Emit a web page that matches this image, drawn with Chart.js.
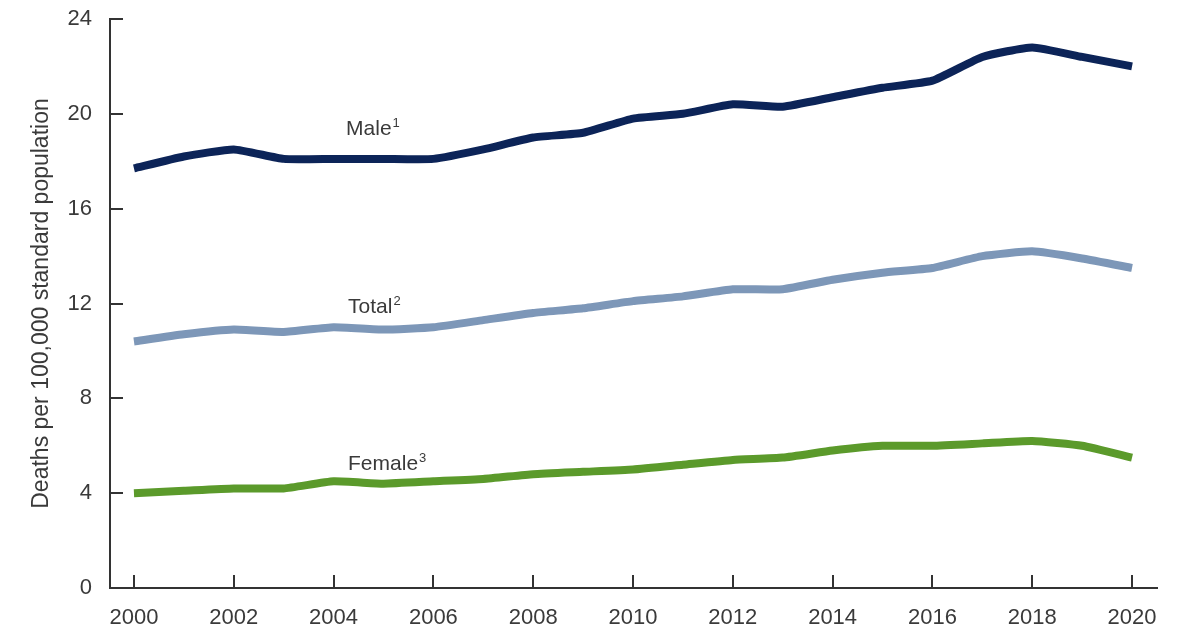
<!DOCTYPE html>
<html>
<head>
<meta charset="utf-8">
<script src="https://cdn.jsdelivr.net/npm/chart.js@4.4.1/dist/chart.umd.min.js"></script>
<style>
  html, body { margin: 0; padding: 0; background: #fff; }
  #wrap { width: 1200px; height: 630px; }
</style>
</head>
<body>
<div id="wrap"><canvas id="chart" width="1200" height="630"></canvas></div>
<script>
const years = [2000, 2001, 2002, 2003, 2004, 2005, 2006, 2007, 2008, 2009, 2010,
  2011, 2012, 2013, 2014, 2015, 2016, 2017, 2018, 2019, 2020];
const male = [17.7, 18.2, 18.5, 18.1, 18.1, 18.1, 18.1, 18.5, 19.0, 19.2, 19.8,
  20.0, 20.4, 20.3, 20.7, 21.1, 21.4, 22.4, 22.8, 22.4, 22.0];
const total = [10.4, 10.7, 10.9, 10.8, 11.0, 10.9, 11.0, 11.3, 11.6, 11.8, 12.1,
  12.3, 12.6, 12.6, 13.0, 13.3, 13.5, 14.0, 14.2, 13.9, 13.5];
const female = [4.0, 4.1, 4.2, 4.2, 4.5, 4.4, 4.5, 4.6, 4.8, 4.9, 5.0,
  5.2, 5.4, 5.5, 5.8, 6.0, 6.0, 6.1, 6.2, 6.0, 5.5];
const seriesNames = ["Male", "Total", "Female"];
const footnotes = ["1", "2", "3"];
const yTitle = "Deaths per 100,000 standard population";

const textColor = "#3a3a3a";
const axisColor = "#333333";
const fontFamily = "'Liberation Sans', Arial, sans-serif";

function points(values) {
  return years.map((yr, i) => ({ x: yr, y: values[i] }));
}

// in-plot series labels with superscript footnote markers
const seriesLabelPlugin = {
  id: "seriesLabels",
  afterDatasetsDraw(chart) {
    const { ctx, scales } = chart;
    // label anchors (left edge, baseline) in data units
    const anchors = [[2004.25, 19.1], [2004.29, 11.6], [2004.29, 4.98]];
    ctx.save();
    ctx.fillStyle = textColor;
    ctx.textBaseline = "alphabetic";
    ctx.textAlign = "left";
    anchors.forEach((a, i) => {
      const px = scales.x.getPixelForValue(a[0]);
      const py = scales.y.getPixelForValue(a[1]);
      ctx.font = "21px " + fontFamily;
      ctx.fillText(seriesNames[i], px, py);
      const w = ctx.measureText(seriesNames[i]).width;
      ctx.font = "13px " + fontFamily;
      ctx.fillText(footnotes[i], px + w + 1, py - 8);
    });
    ctx.restore();
  }
};

new Chart(document.getElementById("chart"), {
  type: "line",
  data: {
    datasets: [
      { label: seriesNames[0], data: points(male), borderColor: "#0c2458", borderWidth: 8 },
      { label: seriesNames[1], data: points(total), borderColor: "#7d97b8", borderWidth: 8 },
      { label: seriesNames[2], data: points(female), borderColor: "#5b9a2b", borderWidth: 8 }
    ]
  },
  options: {
    responsive: false,
    animation: false,
    devicePixelRatio: 1,
    layout: { padding: { top: 19, right: 43, bottom: 0, left: 0 } },
    elements: {
      point: { radius: 0 },
      line: { tension: 0.15, borderJoinStyle: "round", borderCapStyle: "butt" }
    },
    plugins: { legend: { display: false }, tooltip: { enabled: false } },
    scales: {
      x: {
        type: "linear",
        min: 1999.52,
        max: 2020.5,
        afterFit(s) { s.height = 42; s.paddingLeft = 0; s.paddingRight = 0; },
        border: { color: axisColor, width: 2 },
        grid: { drawOnChartArea: false, color: axisColor, lineWidth: 2, tickLength: -13 },
        ticks: {
          stepSize: 2,
          includeBounds: false,
          padding: 30,
          color: textColor,
          font: { family: fontFamily, size: 22 },
          maxRotation: 0,
          callback: v => String(v)
        }
      },
      y: {
        min: 0,
        max: 24,
        afterFit(s) { s.width = 110; s.paddingTop = 0; s.paddingBottom = 0; },
        border: { color: axisColor, width: 2 },
        grid: { drawOnChartArea: false, color: axisColor, lineWidth: 2, tickLength: -13 },
        ticks: {
          stepSize: 4,
          padding: 31,
          color: textColor,
          font: { family: fontFamily, size: 22 }
        },
        title: {
          display: true,
          text: yTitle,
          color: textColor,
          padding: { top: 28, bottom: 0 },
          font: { family: fontFamily, size: 23 }
        }
      }
    }
  },
  plugins: [seriesLabelPlugin]
});
</script>
</body>
</html>
